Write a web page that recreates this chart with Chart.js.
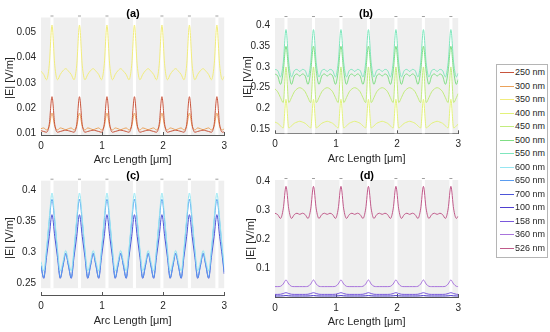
<!DOCTYPE html>
<html>
<head>
<meta charset="utf-8">
<script src="https://cdn.jsdelivr.net/npm/chart.js@4/dist/chart.umd.min.js"></script>
<style>
  body { margin: 0; background: #fff; width: 550px; height: 332px; position: relative; overflow: hidden;
         font-family: "Liberation Sans", Arial, sans-serif; }
  canvas { position: absolute; }
  .ttl { position: absolute; font-weight: bold; font-size: 11px; color: #000; transform: translate(-50%, -50%); }
  .ylab { position: absolute; font-size: 11px; color: #262626; white-space: nowrap;
          transform: translate(-50%, -50%) rotate(-90deg); }
  #legend { position: absolute; left: 496px; top: 64px; width: 52px; height: 194px; box-sizing: border-box;
            border: 1px solid #b5b5b5; background: #fff; }
  .row { position: absolute; left: 0; width: 50px; height: 13px; font-size: 9px; color: #262626; }
  .row span.ln { position: absolute; left: 3px; top: 6px; width: 14px; height: 0; border-top: 1px solid; }
  .row span.tx { position: absolute; left: 18px; top: 1px; line-height: 11px; }
</style>
</head>
<body>
<canvas id="pa" width="232" height="171" style="left:0;top:0"></canvas>
<canvas id="pb" width="232" height="171" style="left:234px;top:0"></canvas>
<canvas id="pc" width="232" height="169" style="left:0;top:163px"></canvas>
<canvas id="pd" width="232" height="169" style="left:234px;top:163px"></canvas>
<div class="ttl" style="left:133px;top:13px">(a)</div>
<div class="ttl" style="left:366px;top:13px">(b)</div>
<div class="ttl" style="left:133px;top:175px">(c)</div>
<div class="ttl" style="left:367px;top:175px">(d)</div>
<div class="ylab" style="left:8.5px;top:78px">|E| [V/m]</div>
<div class="ylab" style="left:246.5px;top:77px">|E| [V/m]</div>
<div class="ylab" style="left:8.5px;top:238px">|E| [V/m]</div>
<div class="ylab" style="left:250px;top:239px">|E| [V/m]</div>
<div id="legend"></div>
<script>
// arc length samples [um]
const arcLength = [
  0,0.045,0.09,0.135,0.18,0.225,0.27,0.315,0.36,0.405,
  0.45,0.495,0.54,0.585,0.63,0.675,0.72,0.765,0.81,0.855,
  0.9,0.945,0.99,1.035,1.08,1.125,1.17,1.215,1.26,1.305,
  1.35,1.395,1.44,1.485,1.53,1.575,1.62,1.665,1.71,1.755,
  1.8,1.845,1.89,1.935,1.98,2.025,2.07,2.115,2.16,2.205,
  2.25,2.295,2.34,2.385,2.43,2.475,2.52,2.565,2.61,2.655,
  2.7,2.745,2.79,2.835,2.88,2.925,2.97,3.0
];

// positions of the gaps between structure blocks
const gapCentres = [0.18, 0.63, 1.08, 1.53, 1.98, 2.43, 2.88];

const wavelengths = ['250 nm','300 nm','350 nm','400 nm','450 nm','500 nm','550 nm',
                     '600 nm','650 nm','700 nm','100 nm','158 nm','360 nm','526 nm'];

const xTicks = [0, 1, 2, 3];
const yTicksA = [0.01, 0.02, 0.03, 0.04, 0.05];
const yTicksB = [0.15, 0.2, 0.25, 0.3, 0.35, 0.4];
const yTicksC = [0.25, 0.3, 0.35, 0.4];
const yTicksD = [0.1, 0.2, 0.3, 0.4];

// (a)
const e250 = [
  0.0110,0.0107,0.0104,0.0135,0.0245,0.0135,0.0104,0.0107,0.0110,0.0112,
  0.0110,0.0107,0.0104,0.0135,0.0245,0.0135,0.0104,0.0107,0.0110,0.0112,
  0.0110,0.0107,0.0104,0.0135,0.0245,0.0135,0.0104,0.0107,0.0110,0.0112,
  0.0110,0.0107,0.0104,0.0135,0.0245,0.0135,0.0104,0.0107,0.0110,0.0112,
  0.0110,0.0107,0.0104,0.0135,0.0245,0.0135,0.0104,0.0107,0.0110,0.0112,
  0.0110,0.0107,0.0104,0.0135,0.0245,0.0135,0.0104,0.0107,0.0110,0.0112,
  0.0110,0.0107,0.0104,0.0135,0.0245,0.0135,0.0104,0.0106
];
const e300 = [
  0.0118,0.0121,0.0113,0.0128,0.0180,0.0128,0.0113,0.0121,0.0118,0.0114,
  0.0118,0.0121,0.0113,0.0128,0.0180,0.0128,0.0113,0.0121,0.0118,0.0114,
  0.0118,0.0121,0.0113,0.0128,0.0180,0.0128,0.0113,0.0121,0.0118,0.0114,
  0.0118,0.0121,0.0113,0.0128,0.0180,0.0128,0.0113,0.0121,0.0118,0.0114,
  0.0118,0.0121,0.0113,0.0128,0.0180,0.0128,0.0113,0.0121,0.0118,0.0114,
  0.0118,0.0121,0.0113,0.0128,0.0180,0.0128,0.0113,0.0121,0.0118,0.0114,
  0.0118,0.0121,0.0113,0.0128,0.0180,0.0128,0.0113,0.0118
];
const e350 = [
  0.0346,0.0333,0.0312,0.0370,0.0529,0.0370,0.0312,0.0333,0.0348,0.0356,
  0.0346,0.0333,0.0312,0.0370,0.0529,0.0370,0.0312,0.0333,0.0348,0.0356,
  0.0346,0.0333,0.0312,0.0370,0.0529,0.0370,0.0312,0.0333,0.0348,0.0356,
  0.0346,0.0333,0.0312,0.0370,0.0529,0.0370,0.0312,0.0333,0.0348,0.0356,
  0.0346,0.0333,0.0312,0.0370,0.0529,0.0370,0.0312,0.0333,0.0348,0.0356,
  0.0346,0.0333,0.0312,0.0370,0.0529,0.0370,0.0312,0.0333,0.0348,0.0356,
  0.0346,0.0333,0.0312,0.0370,0.0529,0.0370,0.0312,0.0326
];

// (b)
const e400 = [
  0.167,0.164,0.158,0.153,0.222,0.153,0.158,0.164,0.167,0.169,
  0.167,0.164,0.158,0.153,0.222,0.153,0.158,0.164,0.167,0.169,
  0.167,0.164,0.158,0.153,0.222,0.153,0.158,0.164,0.167,0.169,
  0.167,0.164,0.158,0.153,0.222,0.153,0.158,0.164,0.167,0.169,
  0.167,0.164,0.158,0.153,0.222,0.153,0.158,0.164,0.167,0.169,
  0.167,0.164,0.158,0.153,0.222,0.153,0.158,0.164,0.167,0.169,
  0.167,0.164,0.158,0.153,0.222,0.153,0.158,0.162
];
const e450 = [
  0.247,0.240,0.226,0.214,0.300,0.214,0.226,0.240,0.247,0.250,
  0.247,0.240,0.226,0.214,0.300,0.214,0.226,0.240,0.247,0.250,
  0.247,0.240,0.226,0.214,0.300,0.214,0.226,0.240,0.247,0.250,
  0.247,0.240,0.226,0.214,0.300,0.214,0.226,0.240,0.247,0.250,
  0.247,0.240,0.226,0.214,0.300,0.214,0.226,0.240,0.247,0.250,
  0.247,0.240,0.226,0.214,0.300,0.214,0.226,0.240,0.247,0.250,
  0.247,0.240,0.226,0.214,0.300,0.214,0.226,0.236
];
const e500 = [
  0.283,0.278,0.258,0.290,0.350,0.290,0.258,0.278,0.283,0.278,
  0.283,0.278,0.258,0.290,0.350,0.290,0.258,0.278,0.283,0.278,
  0.283,0.278,0.258,0.290,0.350,0.290,0.258,0.278,0.283,0.278,
  0.283,0.278,0.258,0.290,0.350,0.290,0.258,0.278,0.283,0.278,
  0.283,0.278,0.258,0.290,0.350,0.290,0.258,0.278,0.283,0.278,
  0.283,0.278,0.258,0.290,0.350,0.290,0.258,0.278,0.283,0.278,
  0.283,0.278,0.258,0.290,0.350,0.290,0.258,0.270
];
const e550 = [
  0.294,0.291,0.276,0.310,0.390,0.310,0.276,0.291,0.294,0.289,
  0.294,0.291,0.276,0.310,0.390,0.310,0.276,0.291,0.294,0.289,
  0.294,0.291,0.276,0.310,0.390,0.310,0.276,0.291,0.294,0.289,
  0.294,0.291,0.276,0.310,0.390,0.310,0.276,0.291,0.294,0.289,
  0.294,0.291,0.276,0.310,0.390,0.310,0.276,0.291,0.294,0.289,
  0.294,0.291,0.276,0.310,0.390,0.310,0.276,0.291,0.294,0.289,
  0.294,0.291,0.276,0.310,0.390,0.310,0.276,0.285
];

// (c)
const e600 = [
  0.285,0.270,0.305,0.355,0.396,0.355,0.305,0.270,0.285,0.303,
  0.285,0.270,0.305,0.355,0.396,0.355,0.305,0.270,0.285,0.303,
  0.285,0.270,0.305,0.355,0.396,0.355,0.305,0.270,0.285,0.303,
  0.285,0.270,0.305,0.355,0.396,0.355,0.305,0.270,0.285,0.303,
  0.285,0.270,0.305,0.355,0.396,0.355,0.305,0.270,0.285,0.303,
  0.285,0.270,0.305,0.355,0.396,0.355,0.305,0.270,0.285,0.303,
  0.285,0.270,0.305,0.355,0.396,0.355,0.305,0.280
];
const e650 = [
  0.279,0.259,0.300,0.350,0.386,0.350,0.300,0.259,0.279,0.2985,
  0.279,0.259,0.300,0.350,0.386,0.350,0.300,0.259,0.279,0.2985,
  0.279,0.259,0.300,0.350,0.386,0.350,0.300,0.259,0.279,0.2985,
  0.279,0.259,0.300,0.350,0.386,0.350,0.300,0.259,0.279,0.2985,
  0.279,0.259,0.300,0.350,0.386,0.350,0.300,0.259,0.279,0.2985,
  0.279,0.259,0.300,0.350,0.386,0.350,0.300,0.259,0.279,0.2985,
  0.279,0.259,0.300,0.350,0.386,0.350,0.300,0.268
];
const e700 = [
  0.278,0.258,0.292,0.326,0.361,0.326,0.292,0.258,0.278,0.2985,
  0.278,0.258,0.292,0.326,0.361,0.326,0.292,0.258,0.278,0.2985,
  0.278,0.258,0.292,0.326,0.361,0.326,0.292,0.258,0.278,0.2985,
  0.278,0.258,0.292,0.326,0.361,0.326,0.292,0.258,0.278,0.2985,
  0.278,0.258,0.292,0.326,0.361,0.326,0.292,0.258,0.278,0.2985,
  0.278,0.258,0.292,0.326,0.361,0.326,0.292,0.258,0.278,0.2985,
  0.278,0.258,0.292,0.326,0.361,0.326,0.292,0.265
];

// (d)
const e100 = [
  0.0035,0.0035,0.0036,0.0042,0.0050,0.0042,0.0036,0.0035,0.0035,0.0035,
  0.0035,0.0035,0.0036,0.0042,0.0050,0.0042,0.0036,0.0035,0.0035,0.0035,
  0.0035,0.0035,0.0036,0.0042,0.0050,0.0042,0.0036,0.0035,0.0035,0.0035,
  0.0035,0.0035,0.0036,0.0042,0.0050,0.0042,0.0036,0.0035,0.0035,0.0035,
  0.0035,0.0035,0.0036,0.0042,0.0050,0.0042,0.0036,0.0035,0.0035,0.0035,
  0.0035,0.0035,0.0036,0.0042,0.0050,0.0042,0.0036,0.0035,0.0035,0.0035,
  0.0035,0.0035,0.0036,0.0042,0.0050,0.0042,0.0036,0.0035
];
const e158 = [
  0.0090,0.0090,0.0095,0.0120,0.0150,0.0120,0.0095,0.0090,0.0090,0.0090,
  0.0090,0.0090,0.0095,0.0120,0.0150,0.0120,0.0095,0.0090,0.0090,0.0090,
  0.0090,0.0090,0.0095,0.0120,0.0150,0.0120,0.0095,0.0090,0.0090,0.0090,
  0.0090,0.0090,0.0095,0.0120,0.0150,0.0120,0.0095,0.0090,0.0090,0.0090,
  0.0090,0.0090,0.0095,0.0120,0.0150,0.0120,0.0095,0.0090,0.0090,0.0090,
  0.0090,0.0090,0.0095,0.0120,0.0150,0.0120,0.0095,0.0090,0.0090,0.0090,
  0.0090,0.0090,0.0095,0.0120,0.0150,0.0120,0.0095,0.0090
];
const e360 = [
  0.036,0.036,0.037,0.045,0.059,0.045,0.037,0.036,0.036,0.036,
  0.036,0.036,0.037,0.045,0.059,0.045,0.037,0.036,0.036,0.036,
  0.036,0.036,0.037,0.045,0.059,0.045,0.037,0.036,0.036,0.036,
  0.036,0.036,0.037,0.045,0.059,0.045,0.037,0.036,0.036,0.036,
  0.036,0.036,0.037,0.045,0.059,0.045,0.037,0.036,0.036,0.036,
  0.036,0.036,0.037,0.045,0.059,0.045,0.037,0.036,0.036,0.036,
  0.036,0.036,0.037,0.045,0.059,0.045,0.037,0.036
];
const e526 = [
  0.290,0.285,0.272,0.305,0.383,0.305,0.272,0.285,0.290,0.286,
  0.290,0.285,0.272,0.305,0.383,0.305,0.272,0.285,0.290,0.286,
  0.290,0.285,0.272,0.305,0.383,0.305,0.272,0.285,0.290,0.286,
  0.290,0.285,0.272,0.305,0.383,0.305,0.272,0.285,0.290,0.286,
  0.290,0.285,0.272,0.305,0.383,0.305,0.272,0.285,0.290,0.286,
  0.290,0.285,0.272,0.305,0.383,0.305,0.272,0.285,0.290,0.286,
  0.290,0.285,0.272,0.305,0.383,0.305,0.272,0.280
];

const colours = {
  '250 nm': '#c8553d', '300 nm': '#eba25a', '350 nm': '#f1ec7c', '400 nm': '#e3f27a',
  '450 nm': '#c3ec7e', '500 nm': '#7fde84', '550 nm': '#7fe6bd', '600 nm': '#96e6f2',
  '650 nm': '#5a9cf0', '700 nm': '#4d55d8', '100 nm': '#4f3fd0', '158 nm': '#7a58dc',
  '360 nm': '#a874dc', '526 nm': '#c05a8a'
};

const TXT = '#262626';

const bandPlugin = {
  id: 'bands',
  beforeDatasetsDraw(chart, args, opts) {
    const { ctx, chartArea: a, scales: { x, y } } = chart;
    const yb = opts.bottom !== undefined ? y.getPixelForValue(opts.bottom) : a.bottom;
    ctx.save();
    ctx.fillStyle = '#efefef';
    ctx.fillRect(a.left, a.top, a.right - a.left, yb - a.top);
    ctx.fillStyle = '#ffffff';
    gapCentres.forEach(c => {
      const l = x.getPixelForValue(c - 0.025), r = x.getPixelForValue(c + 0.025);
      ctx.fillRect(l, a.top, r - l, yb - a.top);
    });
    // little marks above each gap
    ctx.strokeStyle = '#a0a0a0';
    ctx.lineWidth = 1;
    gapCentres.forEach(c => {
      const px = x.getPixelForValue(c);
      ctx.beginPath();
      ctx.moveTo(px - 1.5, a.top - 1.5);
      ctx.lineTo(px + 1.5, a.top - 1.5);
      ctx.stroke();
    });
    // inward ticks on the x axis
    ctx.strokeStyle = '#555';
    xTicks.forEach(v => {
      const px = Math.round(x.getPixelForValue(v)) + 0.5;
      ctx.beginPath();
      ctx.moveTo(px, a.bottom);
      ctx.lineTo(px, a.bottom - 3);
      ctx.stroke();
    });
    ctx.restore();
  }
};

function makePanel(id, series, p) {
  const datasets = series.map(s => ({
    label: s.label,
    data: arcLength.map((v, i) => ({ x: v, y: s.values[i] })),
    borderColor: colours[s.label],
    borderWidth: 1,
    pointRadius: 0,
    fill: false,
    cubicInterpolationMode: 'monotone'
  }));
  return new Chart(document.getElementById(id), {
    type: 'line',
    data: { datasets },
    options: {
      responsive: false,
      animation: false,
      layout: { padding: { top: p.padTop, right: p.padRight, left: 0, bottom: 0 } },
      plugins: { legend: { display: false }, tooltip: { enabled: false }, bands: { bottom: p.bandBottom } },
      scales: {
        x: {
          type: 'linear', min: 0, max: 3,
          afterBuildTicks: s => { s.ticks = xTicks.map(v => ({ value: v })); },
          afterFit: s => { s.height = p.xHeight; },
          grid: { display: false, drawTicks: false },
          border: { display: true, color: '#555', width: 1 },
          ticks: { padding: 5, color: TXT, font: { size: 10 }, callback: v => String(v) },
          title: { display: true, text: 'Arc Length [μm]', color: TXT, font: { size: 11 },
                   padding: { top: 0, bottom: p.xTitlePad } }
        },
        y: {
          type: 'linear', min: p.yMin, max: p.yMax,
          afterBuildTicks: s => { s.ticks = p.yTicks.map(v => ({ value: v })); },
          afterFit: s => { s.width = 41; },
          grid: { display: false, drawTicks: false },
          border: { display: false },
          ticks: { padding: 5, color: TXT, font: { size: 10 }, callback: v => String(v) }
        }
      }
    },
    plugins: [bandPlugin]
  });
}

makePanel('pa', [
  { label: '250 nm', values: e250 },
  { label: '300 nm', values: e300 },
  { label: '350 nm', values: e350 }
], { padTop: 17.5, padRight: 6, xHeight: 36, xTitlePad: 4,
     yMin: 0.0093, yMax: 0.0559, yTicks: yTicksA });

makePanel('pb', [
  { label: '400 nm', values: e400 },
  { label: '450 nm', values: e450 },
  { label: '500 nm', values: e500 },
  { label: '550 nm', values: e550 }
], { padTop: 18, padRight: 6.5, xHeight: 37.7, xTitlePad: 5,
     yMin: 0.140, yMax: 0.418, yTicks: yTicksB });

makePanel('pc', [
  { label: '600 nm', values: e600 },
  { label: '650 nm', values: e650 },
  { label: '700 nm', values: e700 }
], { padTop: 17.7, padRight: 6, xHeight: 37, xTitlePad: 4.5,
     yMin: 0.231, yMax: 0.416, yTicks: yTicksC, bandBottom: 0.242 });

makePanel('pd', [
  { label: '100 nm', values: e100 },
  { label: '158 nm', values: e158 },
  { label: '360 nm', values: e360 },
  { label: '526 nm', values: e526 }
], { padTop: 17, padRight: 6.5, xHeight: 35, xTitlePad: 3.5,
     yMin: 0, yMax: 0.405, yTicks: yTicksD });

// legend
const legend = document.getElementById('legend');
wavelengths.forEach((w, i) => {
  const row = document.createElement('div');
  row.className = 'row';
  row.style.top = Math.round(1 + i * 13.5) + 'px';
  row.innerHTML = '<span class="ln" style="border-color:' + colours[w] + '"></span><span class="tx">' + w + '</span>';
  legend.appendChild(row);
});
</script>
</body>
</html>
